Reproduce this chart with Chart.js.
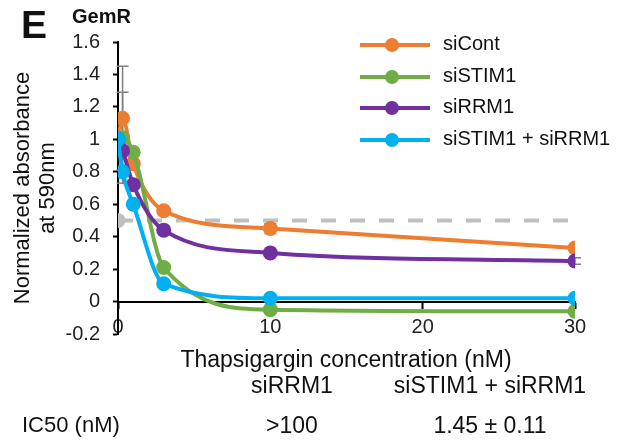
<!DOCTYPE html>
<html>
<head>
<meta charset="utf-8">
<script src="https://cdn.jsdelivr.net/npm/chart.js@4"></script>
<style>
  body { margin: 0; background: #fff; font-family: "Liberation Sans", Arial, sans-serif; }
  #wrap { position: relative; width: 629px; height: 440px; overflow: hidden; }
  #wrap canvas { position: absolute; left: 0; top: 0; }
  .txt { position: absolute; color: #111; font-size: 23px; white-space: nowrap; }
  .legend { position: absolute; left: 360px; top: 33px; }
  .legend .row { position: relative; height: 31.7px; }
  .legend .ln { position: absolute; left: 0; top: 10px; width: 70px; height: 4px; }
  .legend .dot { position: absolute; left: 25px; top: 5px; width: 14px; height: 14px; border-radius: 50%; }
  .legend .lab { position: absolute; left: 83px; top: -1px; font-size: 20px; color: #111; white-space: nowrap; }
</style>
</head>
<body>
<div id="wrap">
  <canvas id="myChart" width="629" height="440"></canvas>
  <div class="txt" style="left:21px;top:3px;font-size:39px;font-weight:bold;">E</div>
  <div class="txt" style="left:72px;top:5px;font-size:20px;font-weight:bold;">GemR</div>
  <div class="legend" id="legend"></div>
  <div class="txt" style="left:0;width:692px;top:346px;text-align:center;">Thapsigargin concentration (nM)</div>
  <div class="txt" style="left:192px;width:200px;top:372px;text-align:center;">siRRM1</div>
  <div class="txt" style="left:390px;width:200px;top:372px;text-align:center;">siSTIM1 + siRRM1</div>
  <div class="txt" style="left:22px;top:412px;font-size:22px;">IC50 (nM)</div>
  <div class="txt" style="left:192px;width:200px;top:412px;text-align:center;">&gt;100</div>
  <div class="txt" style="left:390px;width:200px;top:412px;text-align:center;">1.45 ± 0.11</div>
</div>
<script>
// thapsigargin doses (nM)
var doses = [0, 0.3, 1, 3, 10, 30];
var seriesNames = ['siCont', 'siSTIM1', 'siRRM1', 'siSTIM1 + siRRM1'];
var seriesColors = ['#ED7D31', '#70AD47', '#7030A0', '#00B0F0'];
var siCont = [1.0, 1.13, 0.85, 0.56, 0.45, 0.33];
var siSTIM1 = [1.0, 1.01, 0.92, 0.21, -0.05, -0.06];
var siRRM1 = [1.0, 0.93, 0.72, 0.44, 0.30, 0.25];
var siBoth = [1.0, 0.80, 0.60, 0.11, 0.02, 0.02];
// error bar half widths
var siContErr = [0, 0.32, 0, 0, 0.03, 0];
var siSTIM1Err = [0, 0.28, 0, 0, 0, 0];
var siRRM1Err = [0, 0, 0, 0, 0, 0.02];
var halfLine = [0.5, 0.5];
var halfDoses = [0, 30];
var yTicks = [-0.2, 0, 0.2, 0.4, 0.6, 0.8, 1, 1.2, 1.4, 1.6];
var xTicks = [0, 10, 20, 30];

function pts(xs, ys) {
    return xs.map(function(x, i) { return { x: x, y: ys[i] }; });
}

var allValues = [siCont, siSTIM1, siRRM1, siBoth];
var allErrs = [siContErr, siSTIM1Err, siRRM1Err, null];

// legend
var legend = document.getElementById('legend');
seriesNames.forEach(function(name, i) {
    var row = document.createElement('div');
    row.className = 'row';
    row.innerHTML = '<div class="ln" style="background:' + seriesColors[i] + '"></div>' +
        '<div class="dot" style="background:' + seriesColors[i] + '"></div>' +
        '<div class="lab">' + name + '</div>';
    legend.appendChild(row);
});

var datasets = seriesNames.map(function(name, i) {
    return {
        label: name,
        data: pts(doses, allValues[i]),
        borderColor: seriesColors[i],
        backgroundColor: seriesColors[i],
        borderWidth: 4,
        pointRadius: 7.5,
        pointBorderWidth: 0,
        cubicInterpolationMode: 'monotone',
        order: 3 - i
    };
});
datasets.push({
    label: 'half',
    data: pts(halfDoses, halfLine),
    borderColor: '#BFBFBF',
    backgroundColor: '#BFBFBF',
    borderWidth: 4,
    borderDash: [15, 14],
    pointRadius: [7.5, 0],
    pointBorderWidth: 0,
    order: 10
});

// gray error bars under the points
var errorBars = {
    id: 'errorBars',
    beforeDatasetsDraw: function(chart) {
        var ctx = chart.ctx;
        var xs = chart.scales.x, ys = chart.scales.y;
        ctx.save();
        ctx.strokeStyle = '#7f7f7f';
        ctx.lineWidth = 1.5;
        allErrs.forEach(function(errs, s) {
            if (!errs) return;
            errs.forEach(function(e, i) {
                if (!e) return;
                var px = xs.getPixelForValue(doses[i]);
                var top = ys.getPixelForValue(allValues[s][i] + e);
                var bot = ys.getPixelForValue(allValues[s][i] - e);
                ctx.beginPath();
                ctx.moveTo(px, top); ctx.lineTo(px, bot);
                ctx.moveTo(px - 6, top); ctx.lineTo(px + 6, top);
                ctx.moveTo(px - 6, bot); ctx.lineTo(px + 6, bot);
                ctx.stroke();
            });
        });
        ctx.restore();
    }
};

var myChart = new Chart(document.getElementById('myChart').getContext('2d'), {
    type: 'line',
    data: { datasets: datasets },
    options: {
        responsive: false,
        animation: false,
        layout: { padding: { left: 0, right: 54, top: 42, bottom: 106 } },
        plugins: { legend: { display: false }, tooltip: { enabled: false } },
        scales: {
            x: {
                type: 'linear',
                min: 0, max: 30,
                position: { y: 0 },
                afterBuildTicks: function(scale) {
                    scale.ticks = xTicks.map(function(v) { return { value: v }; });
                },
                grid: { drawOnChartArea: false, tickLength: 6, color: '#000', tickWidth: 2 },
                border: { color: '#000', width: 2 },
                ticks: { color: '#222', font: { family: 'Liberation Sans', size: 20 }, padding: 8, maxRotation: 0 }
            },
            y: {
                min: -0.2, max: 1.6,
                afterBuildTicks: function(scale) {
                    scale.ticks = yTicks.map(function(v) { return { value: v }; });
                },
                afterFit: function(scale) { scale.width = 118; },
                grid: { drawOnChartArea: false, tickLength: 5, color: '#000', tickWidth: 2 },
                border: { color: '#000', width: 2 },
                ticks: {
                    color: '#222', font: { family: 'Liberation Sans', size: 20 }, padding: 13,
                    callback: function(v) { return String(Number(v.toFixed(1))); }
                },
                title: {
                    display: true,
                    text: ['Normalized absorbance', 'at 590nm'],
                    color: '#111',
                    font: { family: 'Liberation Sans', size: 22, lineHeight: 1.15 },
                    padding: { top: 10, bottom: 0 }
                }
            }
        }
    },
    plugins: [errorBars]
});
</script>
</body>
</html>
